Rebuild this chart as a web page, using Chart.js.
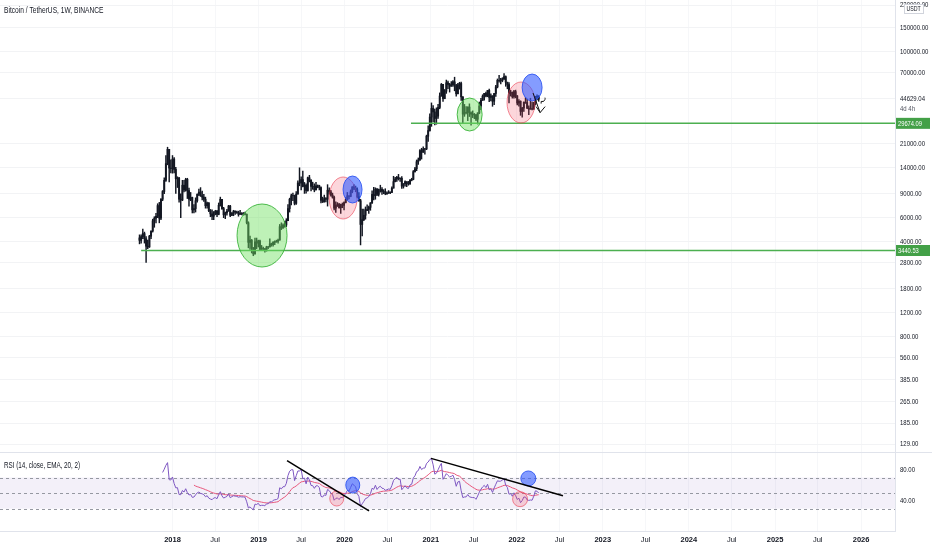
<!DOCTYPE html>
<html>
<head>
<meta charset="utf-8">
<script src="https://cdn.jsdelivr.net/npm/chart.js@4"></script>
<style>
  html, body { margin: 0; padding: 0; background: #fff; }
  #wrap { position: relative; width: 932px; height: 550px; overflow: hidden; }
  .pane { position: absolute; left: 0; width: 932px; }
</style>
</head>
<body>
<div id="wrap">
  <div class="pane" style="top:0;height:452px"><canvas id="main"></canvas></div>
  <div class="pane" style="top:452px;height:98px"><canvas id="rsi"></canvas></div>
</div>
<script>
// BTCUSDT weekly candles, first week starts 2017-08-14; open of each week = previous close
const firstWeek = '2017-08-14';
const firstOpen = 4261;

const closes = [
  // 2017
  4087, 4353, 4580, 4200, 3700, 3660, 4380, 4780, 5690, 5950, 6150, 7360, 5950, 8200, 9350, 11300, 15000, 19100, 13900, 13800,
  // 2018
  16200, 13600, 11600, 11750, 8200, 8100, 10400, 9600, 11500, 9500, 8200, 8450, 6850, 7000, 8000, 8900, 9250, 8700, 8500, 8200,
  7350, 7700, 6750, 6400, 6150, 6600, 6700, 6350, 7400, 8200, 7000, 6300, 6500, 6700, 7300, 6250, 6500, 6700, 6600, 6550,
  6350, 6450, 6400, 6400, 6350, 5500, 3950, 4100, 3600, 3250, 3980, 3900, 4050,
  // 2019
  3500, 3550, 3550, 3450, 3650, 3650, 3850, 3800, 3950, 4000, 4020, 4100, 5150, 5050, 5300, 5300, 5700, 7000, 8200, 8700,
  8730, 7650, 8950, 10800, 10800, 11450, 10200, 10400, 9500, 11800, 11300, 10200, 10150, 9600, 10300, 10300, 10000, 8050, 7850, 8300,
  8200, 9550, 9300, 8800, 8500, 7050, 7400, 7500, 7100, 7500, 7400, 7750,
  // 2020
  8150, 8700, 8600, 9300, 10100, 9900, 9650, 8550, 8000, 5350, 5800, 6250, 6780, 6900, 7150, 7700, 8900, 8700, 9700, 8900,
  9450, 9700, 9350, 9300, 9000, 9100, 9250, 9200, 9900, 11050, 11550, 11900, 11650, 11700, 10250, 10650, 11050, 10750, 10650, 11350,
  11500, 13100, 13750, 15480, 15950, 18700, 18200, 19150, 19250, 23850, 26250, 33000,
  // 2021
  38200, 36000, 32250, 33500, 38850, 47150, 57500, 45150, 51200, 59000, 57350, 55800, 57100, 60000, 56200, 49000, 57000, 58250, 46450, 34700,
  35650, 35800, 39100, 35500, 34700, 34250, 34250, 31800, 35400, 39850, 43800, 47000, 49300, 47100, 51800, 46050, 47250, 43200, 49200, 55000,
  61500, 61000, 61300, 63250, 65500, 59700, 57300, 49400, 50100, 46700, 50800, 47300,
  // 2022
  41850, 43100, 36300, 38450, 42400, 42200, 38400, 37700, 38050, 37800, 41250, 46800, 46400, 44629.04
];

const highs = [
  4485, 4480, 4939, 4700, 4350, 4100, 4450, 4800, 5850, 6100, 6470, 7600, 7776, 8300, 9500, 11800, 17200, 19800, 19000, 16000,
  17200, 16600, 14100, 12000, 11900, 9000, 11300, 11300, 11700, 11700, 9900, 9200, 8500, 7500, 8400, 9000, 9750, 9990, 9400, 8900,
  8500, 7800, 7750, 6900, 6850, 6650, 6800, 6800, 7700, 8500, 8200, 7150, 6600, 6900, 7400, 7400, 6550, 6800, 6750, 6700,
  6700, 6800, 6550, 6550, 6600, 6400, 5600, 4400, 4150, 3620, 4250, 4250, 4100,
  4100, 3750, 3650, 3550, 3700, 3700, 4200, 3900, 4000, 4050, 4100, 4180, 5350, 5500, 5400, 5650, 5900, 7500, 8350, 8950,
  9100, 8800, 9350, 11200, 13970, 12000, 13200, 10900, 10650, 11950, 12300, 11450, 10950, 10650, 10900, 10450, 10400, 10100, 8500, 8800,
  8450, 10500, 9950, 9550, 9100, 8650, 7850, 7750, 7650, 7550, 7700, 7850,
  8450, 9200, 8700, 9600, 10150, 10500, 10250, 9950, 9200, 8200, 6950, 6950, 7200, 7450, 7300, 7750, 9450, 10050, 9950, 9850,
  9750, 10400, 10000, 9650, 9800, 9300, 9500, 9300, 10100, 12100, 11900, 12100, 12500, 11800, 12050, 10700, 11200, 11000, 11100, 11450,
  11700, 13350, 14100, 15950, 16500, 19000, 19450, 19900, 19450, 24300, 28400, 34800,
  41950, 40100, 37850, 38600, 41000, 49700, 58350, 57500, 52650, 61800, 60600, 58400, 60200, 61300, 64850, 57500, 58500, 59500, 59600, 46650,
  40900, 39500, 39300, 41300, 36000, 36650, 35100, 34600, 35500, 42600, 45300, 48150, 49400, 50500, 51900, 52950, 48850, 47400, 49250, 56550,
  62950, 67000, 63700, 64300, 69000, 66300, 59300, 59150, 51950, 50550, 51900, 52100,
  47550, 44450, 43500, 38950, 42650, 45850, 44750, 39850, 45400, 42600, 42400, 46950, 48200, 47500
];

const lows = [
  3850, 3900, 4200, 3900, 2817, 3550, 3620, 4200, 4700, 5100, 5500, 6000, 5500, 5800, 8000, 9000, 11100, 14700, 11000, 12800,
  12750, 12800, 9035, 10000, 7800, 6000, 8000, 9300, 9400, 8300, 7300, 8000, 6500, 6500, 6600, 7800, 8700, 8600, 8100, 7900,
  7050, 7050, 6650, 6100, 5800, 5800, 6300, 6100, 6300, 7300, 6900, 6000, 5900, 6250, 6700, 6100, 6200, 6200, 6350, 6450,
  6150, 6350, 6300, 6250, 6300, 5400, 3600, 3500, 3300, 3150, 3230, 3550, 3650,
  3450, 3500, 3450, 3350, 3400, 3550, 3650, 3700, 3700, 3800, 3950, 3900, 4100, 4900, 5000, 5100, 5150, 5700, 6600, 7450,
  8000, 7450, 7500, 8950, 10300, 9600, 10100, 9050, 9100, 9400, 11000, 9450, 9700, 9300, 9600, 9950, 9600, 7700, 7750, 7800,
  7850, 7300, 8950, 8650, 8350, 6850, 6550, 7250, 7050, 6450, 7100, 6850,
  7700, 8100, 8250, 8550, 9150, 9650, 9300, 8400, 7900, 3782, 4400, 5700, 5850, 6750, 6450, 6800, 7650, 8100, 8200, 8700,
  8650, 9250, 8900, 9000, 8850, 8900, 9050, 9000, 9150, 9900, 11000, 11100, 11350, 11100, 9850, 9900, 10250, 10150, 10400, 10550,
  11200, 11400, 12950, 13300, 14800, 15800, 16200, 18100, 17600, 19000, 21800, 25950,
  28200, 30400, 28850, 29250, 32300, 38000, 47000, 43000, 45000, 49300, 53300, 50400, 55500, 55400, 51500, 47000, 48800, 53000, 43800, 30000,
  33400, 34800, 31000, 33300, 28800, 32700, 32100, 31100, 29300, 34900, 37400, 43800, 43950, 46350, 46550, 42850, 43350, 39600, 40750, 46900,
  54100, 59600, 57800, 60000, 62300, 55600, 53250, 42000, 47100, 45500, 45550, 45700,
  40500, 39650, 34000, 32900, 36250, 41600, 38000, 34300, 37700, 37200, 37550, 40500, 44200, 43100
];

// right price axis labels
const priceTicks = [129, 185, 265, 385, 560, 800, 1200, 1800, 2800, 4000, 6000, 9000, 14000, 21000, 70000, 100000, 150000, 220000];
const priceGridOnly = [45000];
// time axis labels
const timeTickDates = ['2018-01-01', '2018-07-01', '2019-01-01', '2019-07-01', '2020-01-01', '2020-07-01', '2021-01-01', '2021-07-01',
  '2022-01-01', '2022-07-01', '2023-01-01', '2023-07-01', '2024-01-01', '2024-07-01', '2025-01-01', '2025-07-01', '2026-01-01'];
const timeTickLabels = ['2018', 'Jul', '2019', 'Jul', '2020', 'Jul', '2021', 'Jul', '2022', 'Jul', '2023', 'Jul', '2024', 'Jul', '2025', 'Jul', '2026'];
const rsiTicks = [40, 80];

// drawings on the chart (dates / prices, radii in px)
const levels = [
  { from: '2017-08-21', price: 3440.53 },
  { from: '2020-10-09', price: 29674.09 }
];
const priceCircles = [
  { date: '2019-01-16', price: 4436, rx: 25, ry: 31.5, kind: 'green' },
  { date: '2019-12-26', price: 8374, rx: 14, ry: 21, kind: 'red' },
  { date: '2020-02-04', price: 9672, rx: 9.5, ry: 13.5, kind: 'blue' },
  { date: '2021-06-15', price: 34470, rx: 12.5, ry: 16.5, kind: 'green' },
  { date: '2022-01-19', price: 42240, rx: 14, ry: 20.5, kind: 'red' },
  { date: '2022-03-07', price: 54450, rx: 10, ry: 13.5, kind: 'blue' }
];
const rsiCircles = [
  { date: '2019-11-29', value: 43, rx: 7, ry: 7.5, kind: 'red' },
  { date: '2020-02-05', value: 60.3, rx: 7, ry: 8, kind: 'blue' },
  { date: '2022-01-15', value: 42.2, rx: 7.5, ry: 7.5, kind: 'red' },
  { date: '2022-02-19', value: 68.8, rx: 7.5, ry: 7.5, kind: 'blue' }
];
const rsiTrendLines = [
  { from: '2019-05-02', v1: 91.6, to: '2020-04-14', v2: 27.1 },
  { from: '2021-01-02', v1: 94.6, to: '2022-07-16', v2: 46.5 }
];

const FONT = '"Liberation Sans", Arial, sans-serif';
const TXT = '#131722';
const GRID = '#f2f3f5';
const VGRID = '#f6f7f9';
const EDGE = '#e0e3eb';
const xMin = Date.parse('2015-12-31');
const xMax = Date.parse('2026-05-25');
const WEEK = 7 * 86400000;

const circleStyle = {
  green: ['rgba(110,225,95,0.45)', 'rgba(60,180,60,0.9)'],
  red: ['rgba(242,70,90,0.22)', 'rgba(235,60,80,0.6)'],
  blue: ['rgba(50,90,255,0.6)', 'rgba(40,80,240,0.85)']
};

const weeks = closes.map((c, i) => Date.parse(firstWeek) + i * WEEK);
const opens = closes.map((c, i) => i === 0 ? firstOpen : closes[i - 1]);

// RSI(14) with Wilder smoothing and its EMA(20)
function rsi(src, len) {
  const out = src.map(() => null);
  let up = 0, dn = 0;
  for (let i = 1; i < src.length; i++) {
    const ch = src[i] - src[i - 1];
    const u = Math.max(ch, 0), d = Math.max(-ch, 0);
    if (i <= len) {
      up += u / len; dn += d / len;
      if (i === len) out[i] = 100 - 100 / (1 + up / dn);
    } else {
      up = (up * (len - 1) + u) / len;
      dn = (dn * (len - 1) + d) / len;
      out[i] = dn === 0 ? 100 : 100 - 100 / (1 + up / dn);
    }
  }
  return out;
}
function ema(src, len) {
  const out = src.map(() => null);
  const k = 2 / (len + 1);
  let n = 0, sum = 0, prev = null;
  src.forEach((v, i) => {
    if (v === null) return;
    if (prev === null) {
      n++; sum += v;
      if (n === len) { prev = sum / len; out[i] = prev; }
    } else {
      prev = v * k + prev * (1 - k);
      out[i] = prev;
    }
  });
  return out;
}
const rsiVals = rsi(closes, 14);
const rsiMa = ema(rsiVals, 20);

// TradingView uses a narrow UI font: squeeze Liberation Sans horizontally
function narrow(ctx, text, x, y, size, color, sx) {
  ctx.save();
  ctx.translate(x, y);
  ctx.scale(sx || 0.75, 1);
  ctx.font = size + 'px ' + FONT;
  ctx.textBaseline = 'middle';
  ctx.fillStyle = color;
  ctx.fillText(text, 0, 0);
  ctx.restore();
}
function ellipse(ctx, cx, cy, rx, ry, kind) {
  ctx.beginPath();
  ctx.ellipse(cx, cy, rx, ry, 0, 0, Math.PI * 2);
  ctx.fillStyle = circleStyle[kind][0];
  ctx.fill();
  ctx.lineWidth = 1;
  ctx.strokeStyle = circleStyle[kind][1];
  ctx.stroke();
}
function zeroPad(s) {
  s.paddingTop = 0; s.paddingBottom = 0; s.paddingLeft = 0; s.paddingRight = 0;
}

const mainDraw = {
  id: 'mainDraw',
  afterDatasetsDraw(chart) {
    const { ctx, chartArea: a, scales: { x, y } } = chart;
    ctx.save();
    ctx.beginPath();
    ctx.rect(a.left, a.top, a.width, a.height);
    ctx.clip();
    levels.forEach(l => {
      const py = y.getPixelForValue(l.price);
      ctx.strokeStyle = '#4caf50';
      ctx.lineWidth = 1.5;
      ctx.beginPath();
      ctx.moveTo(x.getPixelForValue(Date.parse(l.from)), py);
      ctx.lineTo(a.right, py);
      ctx.stroke();
    });
    priceCircles.forEach(c => ellipse(ctx, x.getPixelForValue(Date.parse(c.date)), y.getPixelForValue(c.price), c.rx, c.ry, c.kind));
    // hand drawn arrow after the last blue circle
    const sx = x.getPixelForValue(Date.parse('2022-03-11')), sy = y.getPixelForValue(49600);
    const ex = x.getPixelForValue(Date.parse('2022-04-10')), ey = y.getPixelForValue(35600);
    ctx.strokeStyle = '#111';
    ctx.lineWidth = 1;
    ctx.beginPath();
    ctx.moveTo(sx, sy);
    ctx.lineTo(ex, ey);
    ctx.moveTo(ex - 4, ey - 6);
    ctx.lineTo(ex, ey);
    ctx.lineTo(ex + 5, ey - 6);
    ctx.moveTo(ex + 1, ey - 9);
    ctx.arc(ex + 2, ey - 14, 3, Math.PI * 0.6, Math.PI * 1.9, true);
    ctx.stroke();
    ctx.restore();
  },
  afterDraw(chart) {
    const { ctx, chartArea: a, scales: { y } } = chart;
    const lx = a.right + 5;
    priceTicks.forEach(v => narrow(ctx, v.toFixed(2), lx, y.getPixelForValue(v), 8, TXT));
    // last price & countdown
    const last = closes[closes.length - 1];
    const py = y.getPixelForValue(last);
    narrow(ctx, last.toFixed(2), lx, py, 8, TXT);
    narrow(ctx, '4d 4h', lx, py + 9.5, 8, '#50535e');
    levels.forEach(l => {
      const ly = y.getPixelForValue(l.price);
      ctx.fillStyle = '#43a047';
      ctx.fillRect(a.right + 1, ly - 5.5, 34, 11);
      narrow(ctx, l.price.toFixed(2), a.right + 3, ly + 0.5, 8, '#fff', 0.72);
    });
    // currency box
    ctx.save();
    ctx.fillStyle = '#fff';
    ctx.fillRect(904, 4.5, 19, 9);
    ctx.strokeStyle = '#d1d4dc';
    ctx.strokeRect(904.5, 4.5, 19, 9);
    ctx.restore();
    narrow(ctx, 'USDT', 906.5, 9.5, 7, TXT);
    // title
    narrow(ctx, 'Bitcoin / TetherUS, 1W, BINANCE', 4, 11, 8.5, TXT, 0.78);
  }
};

new Chart(document.getElementById('main'), {
  type: 'bar',
  data: {
    datasets: [
      {
        label: 'wick',
        data: weeks.map((t, i) => ({ x: t, y: [lows[i], highs[i]] })),
        backgroundColor: '#131722',
        barThickness: 0.8,
        grouped: false
      },
      {
        label: 'body',
        data: weeks.map((t, i) => ({ x: t, y: [opens[i], closes[i]] })),
        backgroundColor: '#131722',
        barThickness: 1.3,
        grouped: false
      }
    ]
  },
  options: {
    responsive: true,
    maintainAspectRatio: false,
    animation: false,
    layout: { padding: 0 },
    plugins: { legend: { display: false }, tooltip: { enabled: false } },
    scales: {
      x: {
        type: 'linear',
        min: xMin,
        max: xMax,
        offset: false,
        afterBuildTicks: s => { s.ticks = timeTickDates.map(d => ({ value: Date.parse(d) })); },
        afterFit: s => { s.height = 0; zeroPad(s); },
        grid: { color: VGRID, drawTicks: false, offset: false },
        border: { display: false },
        ticks: { display: false }
      },
      y: {
        type: 'logarithmic',
        position: 'right',
        min: 113.2,
        max: 239900,
        afterBuildTicks: s => { s.ticks = priceTicks.concat(priceGridOnly).map(v => ({ value: v })); },
        afterFit: s => { s.width = 37; zeroPad(s); },
        grid: { color: GRID, drawTicks: false },
        border: { color: EDGE },
        ticks: { display: false }
      }
    }
  },
  plugins: [mainDraw]
});

const rsiDraw = {
  id: 'rsiDraw',
  beforeDatasetsDraw(chart) {
    const { ctx, chartArea: a, scales: { y } } = chart;
    ctx.save();
    const y70 = y.getPixelForValue(70), y30 = y.getPixelForValue(30);
    ctx.fillStyle = 'rgba(126,87,194,0.09)';
    ctx.fillRect(a.left, y70, a.width, y30 - y70);
    ctx.strokeStyle = '#9598a1';
    ctx.lineWidth = 1;
    ctx.setLineDash([3, 3]);
    [70, 50, 30].forEach(v => {
      const py = Math.round(y.getPixelForValue(v)) + 0.5;
      ctx.beginPath();
      ctx.moveTo(a.left, py);
      ctx.lineTo(a.right, py);
      ctx.stroke();
    });
    ctx.restore();
  },
  afterDatasetsDraw(chart) {
    const { ctx, chartArea: a, scales: { x, y } } = chart;
    ctx.save();
    ctx.beginPath();
    ctx.rect(a.left, a.top, a.width, a.height);
    ctx.clip();
    rsiCircles.forEach(c => ellipse(ctx, x.getPixelForValue(Date.parse(c.date)), y.getPixelForValue(c.value), c.rx, c.ry, c.kind));
    ctx.strokeStyle = '#000';
    ctx.lineWidth = 1.5;
    rsiTrendLines.forEach(l => {
      ctx.beginPath();
      ctx.moveTo(x.getPixelForValue(Date.parse(l.from)), y.getPixelForValue(l.v1));
      ctx.lineTo(x.getPixelForValue(Date.parse(l.to)), y.getPixelForValue(l.v2));
      ctx.stroke();
    });
    ctx.restore();
  },
  afterDraw(chart) {
    const { ctx, chartArea: a, scales: { y } } = chart;
    ctx.save();
    ctx.strokeStyle = EDGE;
    ctx.lineWidth = 1;
    ctx.beginPath();
    ctx.moveTo(0, 0.5);
    ctx.lineTo(932, 0.5);
    ctx.stroke();
    ctx.restore();
    rsiTicks.forEach(v => narrow(ctx, v.toFixed(2), a.right + 5, y.getPixelForValue(v), 8, TXT));
    narrow(ctx, 'RSI (14, close, EMA, 20, 2)', 4, 13.5, 8.5, TXT, 0.74);
  }
};

new Chart(document.getElementById('rsi'), {
  type: 'line',
  data: {
    datasets: [
      {
        label: 'RSI',
        data: weeks.map((t, i) => ({ x: t, y: rsiVals[i] })).filter(p => p.y !== null),
        borderColor: '#7e57c2',
        borderWidth: 1,
        pointRadius: 0
      },
      {
        label: 'RSI-based MA',
        data: weeks.map((t, i) => ({ x: t, y: rsiMa[i] })).filter(p => p.y !== null),
        borderColor: '#e8557a',
        borderWidth: 1,
        pointRadius: 0
      }
    ]
  },
  options: {
    responsive: true,
    maintainAspectRatio: false,
    animation: false,
    layout: { padding: 0 },
    plugins: { legend: { display: false }, tooltip: { enabled: false } },
    scales: {
      x: {
        type: 'linear',
        min: xMin,
        max: xMax,
        afterBuildTicks: s => { s.ticks = timeTickDates.map(d => ({ value: Date.parse(d) })); },
        afterFit: s => { s.height = 18.3; zeroPad(s); },
        grid: { color: VGRID, drawTicks: false },
        border: { color: EDGE },
        ticks: {
          autoSkip: false,
          maxRotation: 0,
          padding: 4,
          color: TXT,
          font: ctx => ({ family: FONT, size: 7.5, weight: /^\d{4}$/.test(timeTickLabels[ctx.index]) ? 'bold' : 'normal' }),
          callback: (v, i) => timeTickLabels[i]
        }
      },
      y: {
        type: 'linear',
        position: 'right',
        min: 0.4,
        max: 102.8,
        afterBuildTicks: s => { s.ticks = rsiTicks.map(v => ({ value: v })); },
        afterFit: s => { s.width = 37; zeroPad(s); },
        grid: { display: false, drawTicks: false },
        border: { color: EDGE },
        ticks: { display: false }
      }
    }
  },
  plugins: [rsiDraw]
});
</script>
</body>
</html>
